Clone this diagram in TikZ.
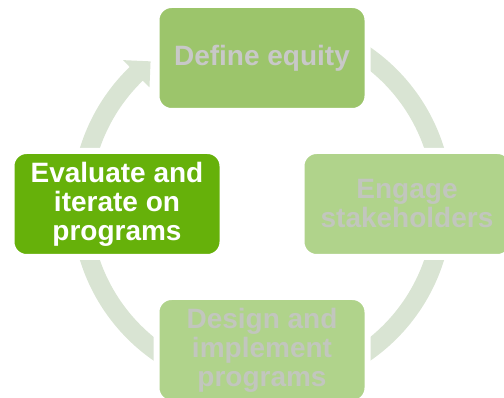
\documentclass[tikz,border=0pt]{standalone}
\usepackage{fontspec}
\setmainfont{Liberation Sans}
\usepackage{tikz}
\usetikzlibrary{calc}

\definecolor{ringgreen}{HTML}{D9E4D3}
\definecolor{boxdark}{HTML}{66B10A}
\definecolor{boxmid}{HTML}{9CC56B}
\definecolor{boxlight}{HTML}{B0D38B}
\definecolor{textgray}{HTML}{C8C8C8}
\definecolor{textfade}{HTML}{C2C6BE}

\tikzset{
 stage/.style={rectangle, rounded corners=15pt, draw=white, line width=6pt,
   minimum width=211pt, minimum height=106pt, inner sep=0pt, align=center,
   font=\fontsize{28}{29}\selectfont\bfseries},
 ring/.style={draw=ringgreen, line width=19pt}
}

\begin{document}
\begin{tikzpicture}[x=1pt,y=1pt]
\useasboundingbox (0,0) rectangle (504,398);
\clip (0,0) rectangle (504,398);
\coordinate (c) at (262,194);
\foreach \x/\y in {10/80,-10/-80,-100/-170}{
\draw[ring] ([shift={(\x:181)}]c) arc (\x:\y:181);};
\fill[ringgreen] ([shift={(170:171.5)}]c) arc (170:134:171.5)
  -- ([shift={(134:162)}]c) -- ([shift={(128:181)}]c) -- ([shift={(134:200)}]c)
  -- ([shift={(134:190.5)}]c) arc (134:170:190.5) -- cycle;
\node[stage, fill=boxmid, text=textgray] (def) at (262,340) {Define equity};
\node[stage, fill=boxlight, text=textfade] (eng) at (407,194) {Engage\\stakeholders};
\node[stage, fill=boxlight, text=textfade] (des) at (262,48) {Design and\\implement\\programs};
\node[stage, fill=boxdark, text=white] (eva) at (117,194) {Evaluate and\\iterate on\\programs};
\end{tikzpicture}
\end{document}
